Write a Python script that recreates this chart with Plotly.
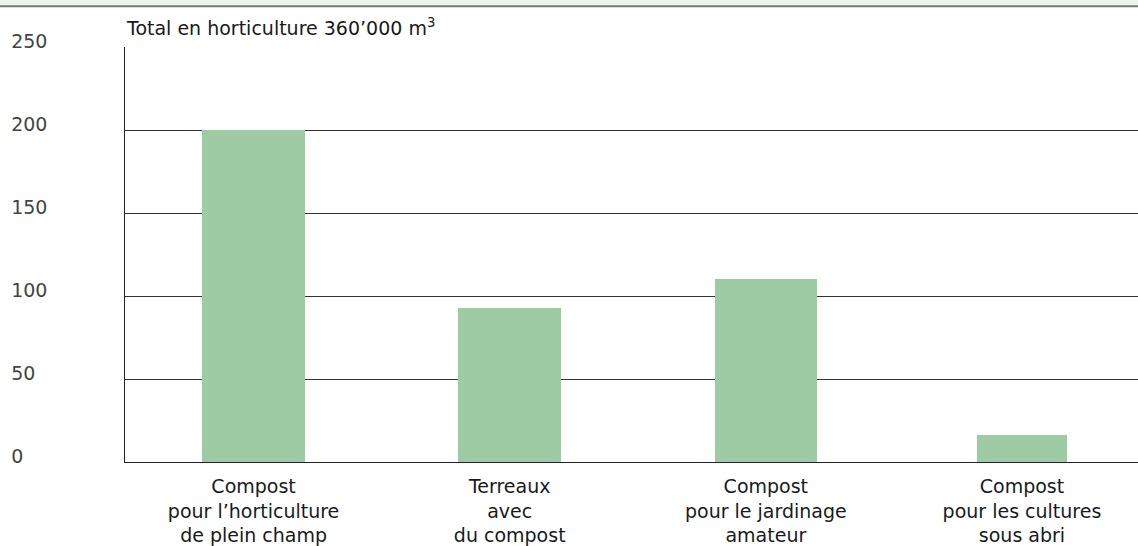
import plotly.graph_objects as go

categories = ["Compost<br>pour l’horticulture<br>de plein champ",
              "Terreaux<br>avec<br>du compost",
              "Compost<br>pour le jardinage<br>amateur",
              "Compost<br>pour les cultures<br>sous abri"]
values = [200, 93, 110, 16]
bar_widths = [0.4, 0.4, 0.4, 0.355]
y_ticks = [0, 50, 100, 150, 200, 250]
title_text = "Total en horticulture 360’000 m<sup>3</sup>"

FONT = "DejaVu Sans"
FS = 19
W, H = 1138, 546
L, R, T, B = 125, 0, 47, 81
pw = W - L - R
ph = H - T - B

fig = go.Figure()
fig.add_trace(go.Bar(
    x=list(range(len(categories))), y=values, width=bar_widths,
    marker=dict(color="#9fcba4", line=dict(width=0)),
    hoverinfo="skip"))

fig.update_layout(
    width=W, height=H,
    margin=dict(l=L, r=R, t=T, b=B, pad=0),
    paper_bgcolor="white", plot_bgcolor="white",
    showlegend=False,
    font=dict(family=FONT, size=FS, color="#1a1a1a"),
    title=dict(text=title_text, xref="container", yref="container",
               x=127 / W, xanchor="left", y=1 - 28 / H, yanchor="middle",
               font=dict(family=FONT, size=FS, color="#1a1a1a")),
    xaxis=dict(tickmode="array", tickvals=list(range(len(categories))),
               ticktext=categories, range=[-0.502, 3.453],
               showgrid=False, zeroline=False, showline=True,
               linecolor="#222", linewidth=1, ticks="",
               ticklabelstandoff=7),
    yaxis=dict(range=[0, 250], tickmode="array", tickvals=y_ticks,
               showgrid=True, gridcolor="#333", gridwidth=1,
               zeroline=False, showline=True, linecolor="#222", linewidth=1,
               ticks="", ticklabelposition="inside", ticklabeloverflow="allow",
               ticklabelstandoff=-113, ticklabelshift=-6),
    bargap=0,
)

# top band
fig.add_shape(type="rect", xref="paper", yref="paper",
              x0=-L / pw, x1=1 + R / pw + 0.01,
              y0=1 + (T - 6) / ph, y1=1 + (T + 2) / ph,
              fillcolor="#eef3ee", line=dict(width=0), layer="below")
fig.add_shape(type="line", xref="paper", yref="paper",
              x0=-L / pw, x1=1 + 0.01,
              y0=1 + (T - 6) / ph, y1=1 + (T - 6) / ph,
              line=dict(color="#777", width=2))

fig.write_html("out.html", config={"displayModeBar": False},
               post_script="document.body.style.margin='0';document.body.style.overflow='hidden';")
